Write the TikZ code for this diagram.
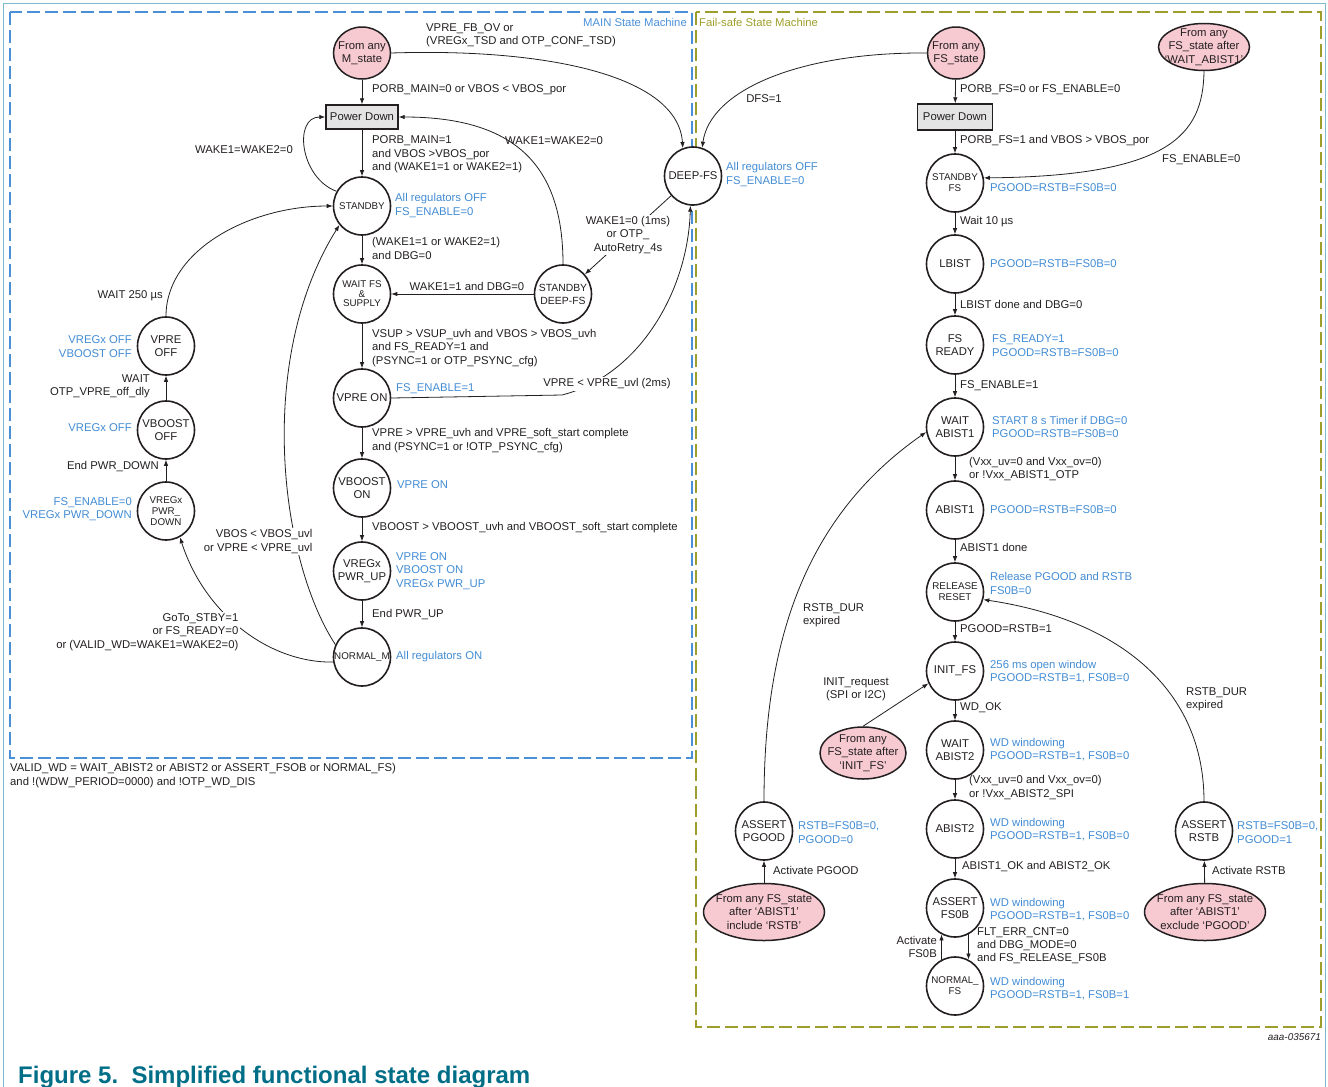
\documentclass[tikz,border=0pt]{standalone}
\usepackage{fontspec}
\setmainfont{Liberation Sans}
\usetikzlibrary{arrows.meta,shapes.geometric}
\definecolor{bluet}{RGB}{66,140,212}
\definecolor{mainc}{RGB}{74,144,217}
\definecolor{olivec}{RGB}{158,158,44}
\definecolor{framec}{RGB}{125,185,205}
\definecolor{pinkc}{RGB}{247,202,210}
\definecolor{grayc}{RGB}{228,228,228}
\definecolor{capc}{RGB}{0,110,135}
\definecolor{txtc}{RGB}{35,31,32}
\newcommand{\lblf}{\fontsize{11.3}{13.3}\selectfont}
\newcommand{\smf}{\fontsize{9.8}{11}\selectfont}
\newcommand{\tnf}{\fontsize{9.8}{9.6}\selectfont}
\newcommand{\mdf}{\fontsize{10.4}{13}\selectfont}
\newcommand{\capf}{\fontsize{24}{28}\selectfont\bfseries}
\newcommand{\idf}{\fontsize{9.9}{11}\selectfont\itshape}
\tikzset{
 st/.style={ellipse, draw=txtc, line width=1.6pt, fill=white, minimum width=57pt, minimum height=58pt, inner sep=-12pt, align=center, font=\lblf, text=txtc},
 pk/.style={ellipse, draw=txtc, line width=1.5pt, fill=pinkc, inner sep=-20pt, align=center, font=\lblf, text=txtc},
 pdbox/.style={rectangle, draw=txtc, line width=1.4pt, fill=grayc, inner sep=0pt, font=\lblf, text=txtc},
 lab/.style={inner sep=0pt, font=\lblf, text=txtc},
 labl/.style={lab, align=left},
 labr/.style={lab, align=right},
 blab/.style={labl, text=bluet},
 blabr/.style={labr, text=bluet},
 wlab/.style={fill=white, inner sep=1.5pt},
 arr/.style={draw=txtc, line width=0.8pt, -{Latex[length=6pt,width=4.5pt]}},
}
\begin{document}
\begin{tikzpicture}[x=1pt,y=-1pt]
\useasboundingbox (0,0) rectangle (1328,1087);
% frames
\draw[framec, line width=1pt] (3.5,1087) -- (3.5,3.5) -- (1325.5,3.5) -- (1325.5,1087);
\draw[mainc, line width=1.8pt, dash pattern=on 13pt off 5pt] (10,12) rectangle (692,758);
\draw[olivec, line width=1.8pt, dash pattern=on 13pt off 5pt] (696,12) rectangle (1321,1027);
\node[lab, text=mainc, anchor=east] (tmain) at (687,22) {MAIN State Machine};
\node[lab, text=olivec, anchor=west] (tfs) at (699,22) {Fail-safe State Machine};

% ---------- MAIN states ----------
\node[pk, minimum width=57pt, minimum height=52pt] (fm) at (362,53) {From any\\M\_state};
\node[pdbox, minimum width=72pt, minimum height=24pt] (pd) at (362,117) {Power Down};
\node[st, font=\smf] (sb) at (362,206) {STANDBY};
\node[st, font=\tnf] (wfs) at (362,294) {WAIT FS\\\&\\SUPPLY};
\node[st] (vpon) at (362,398) {VPRE ON};
\node[st] (vbon) at (362,488) {VBOOST\\ON};
\node[st] (vrup) at (362,571) {VREGx\\PWR\_UP};
\node[st, font=\smf] (nm) at (362,657) {NORMAL\_M};
\node[st, font=\mdf] (sdfs) at (563,294) {STANDBY\\DEEP-FS};
\node[st] (dfs) at (693,176) {DEEP-FS};
\node[st] (voff) at (166,346) {VPRE\\OFF};
\node[st] (vboff) at (166,430) {VBOOST\\OFF};
\node[st, font=\smf] (vrdn) at (166,511) {VREGx\\PWR\_\\DOWN};

% ---------- FS states ----------
\node[pk, minimum width=57pt, minimum height=52pt] (ffs) at (956,53) {From any\\FS\_state};
\node[pk, minimum width=91pt, minimum height=47pt] (ffs2) at (1204,47) {From any\\FS\_state after\\`WAIT\_ABIST1'};
\node[pdbox, minimum width=75pt, minimum height=26pt] (fpd) at (955,117) {Power Down};
\node[st, font=\smf] (sbfs) at (955,183) {STANDBY\\FS};
\node[st] (lb) at (955,264) {LBIST};
\node[st] (fsr) at (955,345) {FS\\READY};
\node[st] (wa1) at (955,427) {WAIT\\ABIST1};
\node[st] (a1) at (955,510) {ABIST1};
\node[st, font=\smf] (rr) at (955,592) {RELEASE\\RESET};
\node[st] (ifs) at (955,671) {INIT\_FS};
\node[st] (wa2) at (955,750) {WAIT\\ABIST2};
\node[st] (a2) at (955,829) {ABIST2};
\node[st] (afs) at (955,908) {ASSERT\\FS0B};
\node[st, font=\smf] (nfs) at (955,986) {NORMAL\_\\FS};
\node[st] (apg) at (764,831) {ASSERT\\PGOOD};
\node[st] (ars) at (1204,831) {ASSERT\\RSTB};
\node[pk, minimum width=121pt, minimum height=57pt] (ffs3) at (764,912) {From any FS\_state\\after `ABIST1'\\include `RSTB'};
\node[pk, minimum width=121pt, minimum height=57pt] (ffs4) at (1205,912) {From any FS\_state\\after `ABIST1'\\exclude `PGOOD'};
\node[pk, minimum width=86pt, minimum height=52pt] (ffs5) at (863,753) {From any\\FS\_state after\\`INIT\_FS'};

\coordinate (k1) at (562,395);

% ---------- MAIN connectors ----------
\draw[arr] (fm) -- (pd);
\draw[arr] (pd) -- (sb);
\draw[arr] (sb) -- (wfs);
\draw[arr] (wfs) -- (vpon);
\draw[arr] (vpon) -- (vbon);
\draw[arr] (vbon) -- (vrup);
\draw[arr] (vrup) -- (nm);
\draw[arr] (sdfs) -- (wfs);
\draw[arr] (vrdn) -- (vboff);
\draw[arr] (vboff) -- (voff);
\draw[arr] (sb.150) .. controls (300,178) and (293,117) .. (pd.west);
\draw[arr] (sdfs.north) .. controls (563,170) and (520,117) .. (pd.east);
\draw[arr] (fm.east) .. controls (545,48) and (678,75) .. (dfs.110);
\draw[arr] (ffs.west) .. controls (800,52) and (710,90) .. (dfs.72);
\draw[arr] (dfs.-138) -- node[wlab, font=\lblf, align=center, text=txtc] (lwk) {WAKE1=0 (1ms)\\or OTP\_\\AutoRetry\_4s} (sdfs.42);
\draw[arr] (vpon.east) -- (k1) .. controls (640,375) and (688,290) .. (dfs.265);
\draw[arr] (voff.north) .. controls (166,250) and (250,206) .. (sb.west);
\draw[arr] (nm.155) .. controls (280,560) and (255,360) .. (sb.220);
\draw[arr] (nm.190) .. controls (270,663) and (205,615) .. (vrdn.-62);

% ---------- FS connectors ----------
\draw[arr] (ffs) -- (fpd);
\draw[arr] (fpd) -- (sbfs);
\draw[arr] (sbfs) -- (lb);
\draw[arr] (lb) -- (fsr);
\draw[arr] (fsr) -- (wa1);
\draw[arr] (wa1) -- (a1);
\draw[arr] (a1) -- (rr);
\draw[arr] (rr) -- (ifs);
\draw[arr] (ifs) -- (wa2);
\draw[arr] (wa2) -- (a2);
\draw[arr] (a2) -- (afs);
\draw[arr] (afs.-63) -- (nfs.63);
\draw[arr] (nfs.117) -- (afs.-117);
\draw[arr] (ffs2.south) .. controls (1203,135) and (1170,176) .. (sbfs.10);
\draw[arr] (ffs3) -- (apg);
\draw[arr] (ffs4) -- (ars);
\draw[arr] (apg.north) .. controls (764,650) and (800,520) .. (wa1.190);
\draw[arr] (ars.north) .. controls (1204,690) and (1120,620) .. (rr.-15);
\draw[arr] (ffs5.north) -- (ifs.205);

% ---------- MAIN labels ----------
\node[labl, anchor=west] (l1) at (372,90) {PORB\_MAIN=0 or VBOS < VBOS\_por};
\node[labl, anchor=west] (l2) at (426,35.5) {VPRE\_FB\_OV or\\(VREGx\_TSD and OTP\_CONF\_TSD)};
\node[labl, anchor=west] (l3) at (372,154.5) {PORB\_MAIN=1\\and VBOS >VBOS\_por\\and (WAKE1=1 or WAKE2=1)};
\node[lab, anchor=east] (l4) at (293,150) {WAKE1=WAKE2=0};
\node[lab, anchor=west] (l5) at (505,141) {WAKE1=WAKE2=0};
\node[labl, anchor=west] (l6) at (372,248.5) {(WAKE1=1 or WAKE2=1)\\and DBG=0};
\node[lab] (l7) at (467,286) {WAKE1=1 and DBG=0};
\node[labl, anchor=west] (l8) at (372,348) {VSUP > VSUP\_uvh and VBOS > VBOS\_uvh\\and FS\_READY=1 and\\(PSYNC=1 or OTP\_PSYNC\_cfg)};
\node[lab, wlab] (l9) at (607,384) {VPRE < VPRE\_uvl (2ms)};
\node[labl, anchor=west] (l10) at (372,440.5) {VPRE > VPRE\_uvh and VPRE\_soft\_start complete\\and (PSYNC=1 or !OTP\_PSYNC\_cfg)};
\node[lab, anchor=west] (l11) at (372,528) {VBOOST > VBOOST\_uvh and VBOOST\_soft\_start complete};
\node[lab, anchor=west] (l12) at (372,615) {End PWR\_UP};
\node[labr, wlab, anchor=east] (l13) at (314,541.5) {VBOS < VBOS\_uvl\\or VPRE < VPRE\_uvl};
\node[labr, wlab, anchor=east] (l14) at (240,632) {GoTo\_STBY=1\\or FS\_READY=0\\or (VALID\_WD=WAKE1=WAKE2=0)};
\node[lab, anchor=east] (l15) at (163,296) {WAIT 250 µs};
\node[labr, anchor=east] (l16) at (150,386.5) {WAIT\\OTP\_VPRE\_off\_dly};
\node[lab, anchor=east] (l17) at (159,467) {End PWR\_DOWN};
% blue
\node[blab, anchor=west] (b1) at (395,205.5) {All regulators OFF\\FS\_ENABLE=0};
\node[blab, anchor=west] (b2) at (726,174.5) {All regulators OFF\\FS\_ENABLE=0};
\node[blab, anchor=west] (b3) at (396,389) {FS\_ENABLE=1};
\node[blab, anchor=west] (b4) at (397,485) {VPRE ON};
\node[blab, anchor=west] (b5) at (396,571) {VPRE ON\\VBOOST ON\\VREGx PWR\_UP};
\node[blab, anchor=west] (b6) at (396,657) {All regulators ON};
\node[blabr, anchor=east] (b7) at (132,346.5) {VREGx OFF\\VBOOST OFF};
\node[blabr, anchor=east] (b8) at (132,428) {VREGx OFF};
\node[blabr, anchor=east] (b9) at (132,509.5) {FS\_ENABLE=0\\VREGx PWR\_DOWN};

% ---------- FS labels ----------
\node[lab] (f1) at (764,99) {DFS=1};
\node[lab, anchor=west] (f2) at (960,90) {PORB\_FS=0 or FS\_ENABLE=0};
\node[lab, anchor=west] (f3) at (960,141) {PORB\_FS=1 and VBOS > VBOS\_por};
\node[lab, anchor=west] (f4) at (1162,160) {FS\_ENABLE=0};
\node[lab, anchor=west] (f5) at (960,222) {Wait 10 µs};
\node[lab, anchor=west] (f6) at (960,304) {LBIST done and DBG=0};
\node[lab, anchor=west] (f7) at (960,386) {FS\_ENABLE=1};
\node[labl, anchor=west] (f8) at (969,469) {(Vxx\_uv=0 and Vxx\_ov=0)\\or !Vxx\_ABIST1\_OTP};
\node[lab, anchor=west] (f9) at (960,547) {ABIST1 done};
\node[lab, anchor=west] (f10) at (960,629) {PGOOD=RSTB=1};
\node[lab, anchor=west] (f11) at (960,708) {WD\_OK};
\node[labl, anchor=west] (f12) at (969,787.5) {(Vxx\_uv=0 and Vxx\_ov=0)\\or !Vxx\_ABIST2\_SPI};
\node[lab, anchor=west] (f13) at (962,867) {ABIST1\_OK and ABIST2\_OK};
\node[labr, anchor=east] (f14) at (937,947) {Activate\\FS0B};
\node[labl, anchor=west] (f15) at (977,945.5) {FLT\_ERR\_CNT=0\\and DBG\_MODE=0\\and FS\_RELEASE\_FS0B};
\node[lab, anchor=west] (f16) at (773,870) {Activate PGOOD};
\node[lab, anchor=west] (f17) at (1212,870) {Activate RSTB};
\node[labl, anchor=west] (f18) at (803,615.5) {RSTB\_DUR\\expired};
\node[labl, anchor=west] (f19) at (1186,699) {RSTB\_DUR\\expired};
\node[lab, align=center] (f20) at (856,689.5) {INIT\_request\\(SPI or I2C)};
% blue
\node[blab, anchor=west] (g1) at (990,188) {PGOOD=RSTB=FS0B=0};
\node[blab, anchor=west] (g2) at (990,264) {PGOOD=RSTB=FS0B=0};
\node[blab, anchor=west] (g3) at (992,345.5) {FS\_READY=1\\PGOOD=RSTB=FS0B=0};
\node[blab, anchor=west] (g4) at (992,427) {START 8 s Timer if DBG=0\\PGOOD=RSTB=FS0B=0};
\node[blab, anchor=west] (g5) at (990,510) {PGOOD=RSTB=FS0B=0};
\node[blab, anchor=west] (g6) at (990,583.5) {Release PGOOD and RSTB\\FS0B=0};
\node[blab, anchor=west] (g7) at (990,671.5) {256 ms open window\\PGOOD=RSTB=1, FS0B=0};
\node[blab, anchor=west] (g8) at (990,749.5) {WD windowing\\PGOOD=RSTB=1, FS0B=0};
\node[blab, anchor=west] (g9) at (990,829.5) {WD windowing\\PGOOD=RSTB=1, FS0B=0};
\node[blab, anchor=west] (g10) at (990,909.5) {WD windowing\\PGOOD=RSTB=1, FS0B=0};
\node[blab, anchor=west] (g11) at (990,988.5) {WD windowing\\PGOOD=RSTB=1, FS0B=1};
\node[blab, anchor=west] (g12) at (798,832.5) {RSTB=FS0B=0,\\PGOOD=0};
\node[blab, anchor=west] (g13) at (1237,832.5) {RSTB=FS0B=0,\\PGOOD=1};

% ---------- misc ----------
\node[labl, anchor=west] (note) at (10,775.5) {VALID\_WD = WAIT\_ABIST2 or ABIST2 or ASSERT\_FSOB or NORMAL\_FS)\\and !(WDW\_PERIOD=0000) and !OTP\_WD\_DIS};
\node[inner sep=0pt, font=\idf, text=txtc, anchor=east] (aid) at (1321,1037) {aaa-035671};
\node[inner sep=0pt, font=\capf, text=capc, anchor=base west] (cap) at (18,1083) {Figure 5.\ \ Simplified functional state diagram};
\end{tikzpicture}
\end{document}
